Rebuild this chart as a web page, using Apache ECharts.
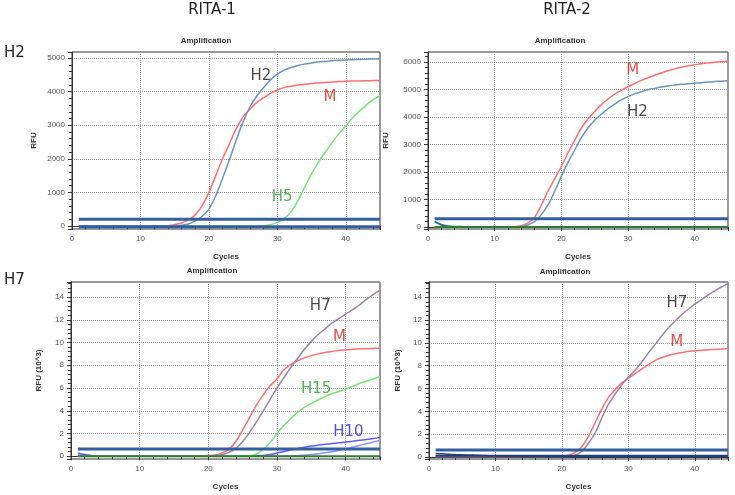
<!DOCTYPE html>
<html><head><meta charset="utf-8">
<script src="https://cdn.jsdelivr.net/npm/echarts@6/dist/echarts.min.js"></script>
<style>html,body{margin:0;padding:0;background:#fff}#c{width:735px;height:495px}</style>
</head><body><div id="c"></div>
<script>
// ---------- DATA ----------
const cycles = [1,2,3,4,5,6,7,8,9,10,11,12,13,14,15,16,17,18,19,20,21,22,23,24,25,26,27,28,29,30,31,32,33,34,35,36,37,38,39,40,41,42,43,44,45];

const columnHeaders = ['RITA-1', 'RITA-2'];
const rowHeaders = ['H2', 'H7'];
const xTicks = [0, 10, 20, 30, 40];

// Panel 1: RITA-1 / H2 (RFU)
const r1h2_M  = [0,0,0,0,0,0,0,0,0,0,0,0,0,10,40,90,180,330,600,1000,1500,2000,2450,2900,3250,3480,3680,3820,3950,4050,4120,4160,4195,4220,4245,4260,4275,4290,4300,4310,4315,4320,4325,4330,4335];
const r1h2_H2 = [0,0,0,0,0,0,0,0,0,0,0,0,0,0,0,20,60,150,290,500,900,1420,1970,2560,3100,3550,3870,4120,4350,4520,4640,4720,4780,4820,4855,4880,4900,4918,4932,4943,4952,4960,4966,4972,4978];
const r1h2_H5 = [0,0,0,0,0,0,0,0,0,0,0,0,0,0,0,0,0,0,0,0,0,0,0,0,0,0,0,10,40,100,220,420,750,1150,1550,1900,2200,2480,2750,2980,3220,3420,3600,3760,3880];
const r1h2_base = [-20,-20,-20,-20,-20,-20,-20,-20,-20,-20,-20,-20,-20,-20,-20,-20,-20,-20,-20,-20,-20,-20,-20,-20,-20,-20,-20,-20,-20,-20,-20,-20,-20,-20,-20,-20,-20,-20,-20,-20,-20,-20,-20,-20,-20];

// Panel 2: RITA-2 / H2 (RFU)
const r2h2_M  = [0,0,0,0,0,0,0,0,0,0,0,0,10,50,150,350,800,1300,1750,2200,2700,3150,3600,3930,4200,4450,4650,4830,4970,5100,5220,5330,5430,5520,5600,5680,5750,5810,5860,5900,5940,5970,5990,6010,6030];
const r2h2_H2 = [0,0,0,0,0,0,0,0,0,0,0,0,0,20,80,200,450,800,1300,1850,2350,2800,3250,3600,3880,4100,4300,4470,4620,4740,4840,4920,4990,5040,5090,5130,5160,5190,5210,5230,5250,5270,5290,5300,5315];
const r2h2_bump = [200,80,30,10,5,0,0,0,0,0,0,0,0,0,0,0,0,0,0,0,0,0,0,0,0,0,0,0,0,0,0,0,0,0,0,0,0,0,0,0,0,0,0,0,0];
const r2h2_base = [0,0,0,0,0,0,0,0,0,0,0,0,0,0,0,0,0,0,0,0,0,0,0,0,0,0,0,0,0,0,0,0,0,0,0,0,0,0,0,0,0,0,0,0,0];

// Panel 3: RITA-1 / H7 (RFU x 10^3)
const r1h7_M   = [0.03,0.03,0.03,0.03,0.03,0.03,0.03,0.03,0.03,0.03,0.03,0.03,0.03,0.03,0.03,0.03,0.03,0.03,0.03,0.06,0.12,0.3,0.6,1.3,2.3,3.4,4.5,5.4,6.2,6.8,7.6,8.05,8.4,8.65,8.85,9.0,9.12,9.22,9.3,9.35,9.4,9.43,9.46,9.48,9.5];
const r1h7_H7  = [0.02,0.02,0.02,0.02,0.02,0.02,0.02,0.02,0.02,0.02,0.02,0.02,0.02,0.02,0.02,0.02,0.02,0.02,0.02,0.02,0.05,0.15,0.35,0.7,1.3,2.1,3.0,4.0,5.0,6.0,6.9,7.8,8.6,9.4,10.1,10.7,11.2,11.7,12.1,12.5,12.9,13.3,13.8,14.2,14.6];
const r1h7_H15 = [0.02,0.02,0.02,0.02,0.02,0.02,0.02,0.02,0.02,0.02,0.02,0.02,0.02,0.02,0.02,0.02,0.02,0.02,0.02,0.02,0.02,0.02,0.02,0.02,0.02,0.05,0.2,0.6,1.2,2.0,2.7,3.3,3.85,4.3,4.65,4.95,5.25,5.5,5.7,5.9,6.15,6.4,6.6,6.8,7.0];
const r1h7_H10a = [0.3,0.15,0.06,0.03,0.02,0.02,0.02,0.02,0.02,0.02,0.02,0.02,0.02,0.02,0.02,0.02,0.02,0.02,0.02,0.02,0.02,0.02,0.02,0.02,0.02,0.02,0.02,0.06,0.15,0.28,0.42,0.55,0.68,0.8,0.9,0.98,1.05,1.12,1.18,1.25,1.32,1.4,1.48,1.56,1.65];
const r1h7_H10b = [0.2,0.1,0.04,0.02,0.01,0.01,0.01,0.01,0.01,0.01,0.01,0.01,0.01,0.01,0.01,0.01,0.01,0.01,0.01,0.01,0.01,0.01,0.01,0.01,0.01,0.01,0.01,0.01,0.01,0.01,0.01,0.02,0.05,0.1,0.15,0.22,0.3,0.4,0.52,0.65,0.8,0.95,1.1,1.25,1.4];
const r1h7_base = [0,0,0,0,0,0,0,0,0,0,0,0,0,0,0,0,0,0,0,0,0,0,0,0,0,0,0,0,0,0,0,0,0,0,0,0,0,0,0,0,0,0,0,0,0];

// Panel 4: RITA-2 / H7 (RFU x 10^3)
const r2h7_M  = [0.05,0.05,0.05,0.05,0.05,0.05,0.05,0.05,0.05,0.05,0.05,0.05,0.05,0.05,0.05,0.05,0.05,0.05,0.05,0.05,0.15,0.4,0.9,1.8,3.0,4.2,5.2,5.9,6.5,6.9,7.3,7.7,8.1,8.45,8.7,8.9,9.05,9.15,9.25,9.3,9.35,9.4,9.43,9.46,9.5];
const r2h7_H7 = [0.05,0.05,0.05,0.05,0.05,0.05,0.05,0.05,0.05,0.05,0.05,0.05,0.05,0.05,0.05,0.05,0.05,0.05,0.05,0.05,0.05,0.15,0.5,1.2,2.1,3.4,4.6,5.5,6.3,7.0,7.6,8.3,9.1,9.85,10.6,11.3,11.9,12.45,12.95,13.4,13.8,14.2,14.55,14.9,15.2];
const r2h7_bump = [0.3,0.27,0.24,0.21,0.19,0.17,0.15,0.13,0.11,0.1,0.08,0.07,0.06,0.05,0.04,0.03,0.03,0.02,0.02,0.02,0.02,0.02,0.02,0.02,0.02,0.02,0.02,0.02,0.02,0.02,0.02,0.02,0.02,0.02,0.02,0.02,0.02,0.02,0.02,0.02,0.02,0.02,0.02,0.02,0.02];
const r2h7_base = [0.1,0.1,0.1,0.1,0.1,0.1,0.1,0.1,0.1,0.1,0.1,0.1,0.1,0.1,0.1,0.1,0.1,0.1,0.1,0.1,0.1,0.1,0.1,0.1,0.1,0.1,0.1,0.1,0.1,0.1,0.1,0.1,0.1,0.1,0.1,0.1,0.1,0.1,0.1,0.1,0.1,0.1,0.1,0.1,0.1];

// Thresholds per panel
const thresholds = [200, 300, 0.65, 0.62];
const thresholdSpan = [1, 45];

// Curve annotations [cycle, value, text] per panel
const labels1 = [[27.6, 4460, 'H2'], [37.7, 3840, 'M'], [30.7, 860, 'H5']];
const labels2 = [[30.7, 5710, 'M'], [31.4, 4180, 'H2']];
const labels3 = [[36.3, 13.2, 'H7'], [39.1, 10.5, 'M'], [35.7, 5.9, 'H15'], [40.4, 2.15, 'H10']];
const labels4 = [[37.3, 13.5, 'H7'], [37.3, 10.1, 'M']];

// ---------- CHART ----------
const pair = arr => cycles.map((c, i) => [c, arr[i]]);
const C = {
  red: '#ff6f6f', blue: '#6a93bf', green: '#72e572', purple: '#9c84a8',
  h10a: '#5a5aff', h10b: '#8f8fff', thr: '#335f9e', dark: '#1f3f7a', dgreen: '#2e7d32',
  black: '#1a1a1a', tred: '#e0201c', tgreen: '#27a327', tblue: '#2424e0'
};
const labelColor = { H2: C.black, H7: C.black, M: C.tred, H5: C.tgreen, H15: C.tgreen, H10: C.tblue };

const grids = [
  { left: 72, top: 52, width: 308, height: 177 },
  { left: 428, top: 52, width: 300, height: 177 },
  { left: 71, top: 282, width: 309, height: 177 },
  { left: 429, top: 282, width: 299, height: 177 }
].map(g => Object.assign(g, { show: true, borderColor: '#333', borderWidth: 1, backgroundColor: '#fff' }));

const yRanges = [[-90, 5180, 5], [-73, 6364, 6], [-0.24, 15.32, 8], [-0.18, 15.34, 8]];
const yNames = ['RFU', 'RFU', 'RFU (10^3)', 'RFU (10^3)'];
const yGaps = [34, 38, 28, 27];

const fmt = v => String(Math.round(v * 1000) / 1000);

const xAxes = grids.map((g, i) => ({
  type: 'value', gridIndex: i, min: 0, max: 45, interval: 10,
  name: 'Cycles', nameLocation: 'middle', nameGap: 24,
  nameTextStyle: { fontSize: 8, fontWeight: 'bold', color: '#333', fontFamily: 'Liberation Sans' },
  axisLine: { show: true, lineStyle: { color: '#333' } },
  axisTick: { show: true, length: 4, lineStyle: { color: '#333' } },
  minorTick: { show: true, splitNumber: 5, length: 3, lineStyle: { color: '#333' } },
  axisLabel: { fontSize: 8, color: '#555', margin: 6, showMaxLabel: false, fontFamily: 'Liberation Sans', formatter: fmt },
  splitLine: { show: true, lineStyle: { type: 'dotted', color: '#999', width: 1 } }
}));
const yAxes = grids.map((g, i) => ({
  type: 'value', gridIndex: i, min: yRanges[i][0], max: yRanges[i][1], splitNumber: yRanges[i][2],
  name: yNames[i], nameLocation: 'middle', nameGap: yGaps[i],
  nameTextStyle: { fontSize: 8, fontWeight: 'bold', color: '#333', fontFamily: 'Liberation Sans' },
  axisLine: { show: true, lineStyle: { color: '#333' } },
  axisTick: { show: true, length: 4, lineStyle: { color: '#333' } },
  minorTick: { show: true, splitNumber: 5, length: 3, lineStyle: { color: '#333' } },
  axisLabel: { fontSize: 8, color: '#555', margin: 7, showMinLabel: false, showMaxLabel: false, fontFamily: 'Liberation Sans', formatter: fmt },
  splitLine: { show: true, lineStyle: { type: 'dotted', color: '#999', width: 1 } }
}));

function line(i, arr, color, width, z) {
  return { type: 'line', xAxisIndex: i, yAxisIndex: i, data: pair(arr), showSymbol: false, symbol: 'none',
    smooth: 0.35, lineStyle: { color: color, width: width || 1.5 }, z: z || 2, silent: true, animation: false };
}
function thr(i) {
  return { type: 'line', xAxisIndex: i, yAxisIndex: i, data: thresholdSpan.map(c => [c, thresholds[i]]),
    showSymbol: false, symbol: 'none', lineStyle: { color: C.thr, width: 3 }, z: 4, silent: true, animation: false };
}
function lbl(i, arr) {
  return { type: 'scatter', xAxisIndex: i, yAxisIndex: i, symbolSize: 1, itemStyle: { color: 'rgba(0,0,0,0)' },
    silent: true, animation: false, z: 6,
    data: arr.map(d => ({ value: [d[0], d[1]], name: d[2],
      label: { show: true, position: 'inside', formatter: d[2], color: labelColor[d[2]],
        fontSize: 15, fontFamily: 'DejaVu Sans' } })) };
}

const series = [
  line(0, r1h2_H5, C.green), line(0, r1h2_M, C.red), line(0, r1h2_H2, C.blue),
  line(0, r1h2_base, C.thr, 3, 4), thr(0), lbl(0, labels1),

  line(1, r2h2_bump, '#2a6f8a', 2, 3), line(1, r2h2_base, C.dgreen, 2, 3),
  line(1, r2h2_M, C.red), line(1, r2h2_H2, C.blue), thr(1), lbl(1, labels2),

  line(2, r1h7_base, C.dgreen, 2, 3), line(2, r1h7_H10b, C.h10b), line(2, r1h7_H10a, C.h10a),
  line(2, r1h7_H15, C.green), line(2, r1h7_M, C.red), line(2, r1h7_H7, C.purple), thr(2), lbl(2, labels3),

  line(3, r2h7_base, C.dark, 2, 3), line(3, r2h7_bump, C.dark, 1.5, 3),
  line(3, r2h7_M, C.red), line(3, r2h7_H7, C.purple), thr(3), lbl(3, labels4)
];

const tstyle = { fontSize: 8, fontWeight: 'bold', color: '#333', fontFamily: 'Liberation Sans' };
const hstyle = { fontSize: 15, fontWeight: 'normal', color: '#222', fontFamily: 'DejaVu Sans' };
const titles = [
  { text: 'Amplification', left: 206, top: 37, textAlign: 'center', textStyle: tstyle },
  { text: 'Amplification', left: 560, top: 37, textAlign: 'center', textStyle: tstyle },
  { text: 'Amplification', left: 212, top: 267, textAlign: 'center', textStyle: tstyle },
  { text: 'Amplification', left: 565, top: 268, textAlign: 'center', textStyle: tstyle },
  { text: columnHeaders[0], left: 212, top: 3, textAlign: 'center', textStyle: hstyle },
  { text: columnHeaders[1], left: 567, top: 3, textAlign: 'center', textStyle: hstyle },
  { text: rowHeaders[0], left: 4, top: 46, textStyle: hstyle },
  { text: rowHeaders[1], left: 4, top: 273, textStyle: hstyle }
].map(t => Object.assign({ padding: 0 }, t));

const chart = echarts.init(document.getElementById('c'), null, { renderer: 'canvas' });
chart.setOption({
  animation: false, backgroundColor: '#fff',
  title: titles, grid: grids, xAxis: xAxes, yAxis: yAxes, series: series
});
</script></body></html>
